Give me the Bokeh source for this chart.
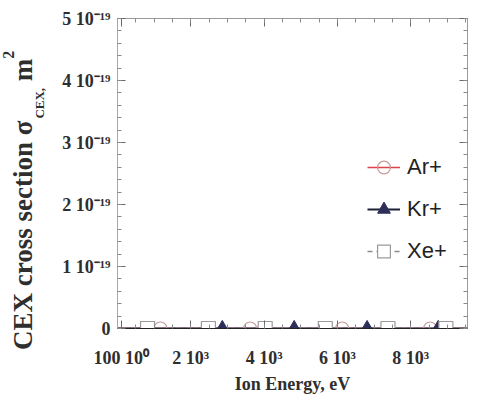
from bokeh.plotting import figure
from bokeh.layouts import row
from bokeh.models import Range1d, FixedTicker, LinearAxis, Legend, LegendItem, Div
from bokeh.embed import file_html
from bokeh.resources import INLINE

# ---------------- data ----------------
# x: ion energy (eV); y: CEX cross section in units of 1e-19 m^2
energy_ticks = [100, 2000, 4000, 6000, 8000]
energy_tick_labels = ["100 10\u2070", "2 10\u00b3", "4 10\u00b3", "6 10\u00b3", "8 10\u00b3"]
energy_minor = [0, 500, 1000, 1500, 2000, 2500, 3000, 3500, 4000, 4500, 5000,
                5500, 6000, 6500, 7000, 7500, 8000, 8500, 9000, 9500]
sigma_ticks = [0, 1, 2, 3, 4, 5]
sigma_tick_labels = ["0", "1 10\u207b\u00b9\u2079", "2 10\u207b\u00b9\u2079",
                     "3 10\u207b\u00b9\u2079", "4 10\u207b\u00b9\u2079", "5 10\u207b\u00b9\u2079"]
sigma_minor = [0, 0.2, 0.4, 0.6, 0.8, 1, 1.2, 1.4, 1.6, 1.8, 2, 2.2, 2.4, 2.6, 2.8,
               3, 3.2, 3.4, 3.6, 3.8, 4, 4.2, 4.4, 4.6, 4.8, 5]

line_energy = [0, 9550]
line_sigma = [0, 0]

ar_energy = [1170, 3620, 6130, 8530]
ar_sigma = [0, 0, 0, 0]
kr_energy = [2860, 4820, 6810, 8750]
kr_sigma = [0, 0, 0, 0]
xe_energy = [820, 2480, 4030, 5670, 7380, 8960]
xe_sigma = [0, 0, 0, 0, 0, 0]

SERIF = "Liberation Serif"
TXT = "#2e2e2e"

# ---------------- main figure ----------------
p = figure(width=430, height=396, x_range=Range1d(0, 9550), y_range=Range1d(0, 5),
           output_backend="svg", toolbar_location=None,
           min_border_left=67, min_border_right=13, min_border_top=18, min_border_bottom=66)
p.xgrid.visible = False
p.ygrid.visible = False
p.outline_line_color = "#9a9a9a"

xt = FixedTicker(ticks=energy_ticks, minor_ticks=energy_minor)
yt = FixedTicker(ticks=sigma_ticks, minor_ticks=sigma_minor)

def style_axis(ax, ticker, labels=None, ticks=None, hide=False):
    ax.ticker = ticker
    ax.major_tick_in = 8
    ax.major_tick_out = 0
    ax.minor_tick_in = 4
    ax.minor_tick_out = 0
    ax.major_tick_line_color = "#6a6a6a"
    ax.minor_tick_line_color = "#8a8a8a"
    if hide:
        ax.major_label_text_color = None
        ax.major_label_text_font_size = "1px"
        ax.major_label_standoff = 0
        ax.axis_line_color = None
    else:
        ax.major_label_overrides = {t: l for t, l in zip(ticks, labels)}
        ax.major_label_text_font = SERIF
        ax.major_label_text_font_style = "bold"
        ax.major_label_text_font_size = "18px"
        ax.major_label_text_color = TXT

xa = p.xaxis[0]
style_axis(xa, xt, energy_tick_labels, energy_ticks)
xa.major_label_standoff = 19
xa.axis_line_color = "#222222"
xa.axis_label = "Ion Energy, eV"
xa.axis_label_standoff = 3
xa.axis_label_text_font = SERIF
xa.axis_label_text_font_style = "bold"
xa.axis_label_text_font_size = "18px"
xa.axis_label_text_color = TXT

ya = p.yaxis[0]
style_axis(ya, yt, sigma_tick_labels, sigma_ticks)
ya.major_label_standoff = 7
ya.axis_line_color = "#a8a8a8"

top_ax = LinearAxis()
style_axis(top_ax, xt, hide=True)
p.add_layout(top_ax, "above")
right_ax = LinearAxis()
style_axis(right_ax, yt, hide=True)
p.add_layout(right_ax, "right")

xe_line = p.line(line_energy, line_sigma, line_color="#8a8a8a", line_width=1.5, line_dash="5 4")
ar_line = p.line(line_energy, line_sigma, line_color="#e0404a", line_width=1.5)
kr_line = p.line(line_energy, line_sigma, line_color="#1e1f38", line_width=2)

ar_pts = p.scatter(ar_energy, ar_sigma, marker="circle", size=13, fill_color=None,
                   line_color="#c49c9c", line_width=1.2)
kr_pts = p.scatter(kr_energy, kr_sigma, marker="triangle", size=14, fill_color="#2d2f58",
                   line_color="#2d2f58")
xe_pts = p.scatter(xe_energy, xe_sigma, marker="square", size=14, fill_color="white",
                   line_color="#9a9a9a", line_width=1.2)

legend = Legend(items=[LegendItem(label="Ar+", renderers=[ar_line, ar_pts]),
                       LegendItem(label="Kr+", renderers=[kr_line, kr_pts]),
                       LegendItem(label="Xe+", renderers=[xe_line, xe_pts])],
                location=(250, 61), border_line_color=None, background_fill_alpha=0,
                padding=0, margin=0, spacing=10, glyph_width=33, glyph_height=32,
                label_height=32, label_standoff=7,
                label_text_font="Liberation Sans Narrow, Liberation Sans",
                label_text_font_size="22px", label_text_color="#222222")
p.add_layout(legend)

# ---------------- y-axis title (rotated HTML text with sub/superscript) ----------------
ytitle_html = (
    "<div style=\"position:absolute; left:10px; top:350px; transform-origin:0 0; "
    "transform:rotate(-90deg); white-space:nowrap; font-family:'Liberation Serif', serif; "
    "font-weight:bold; font-size:27px; line-height:27px; color:#2e2e2e;\">"
    "CEX cross section \u03c3"
    "<span style=\"font-size:13px; position:relative; top:12px; margin-left:2px;\">CEX,</span>"
    " m<span style=\"font-size:16px; position:relative; top:-18px;\">2</span></div>"
)
ydiv = Div(text=ytitle_html, width=50, height=396, margin=0,
           styles={"position": "relative", "overflow": "visible"})

layout = row(ydiv, p, spacing=0)
open("out.html", "w").write(file_html(layout, INLINE))
